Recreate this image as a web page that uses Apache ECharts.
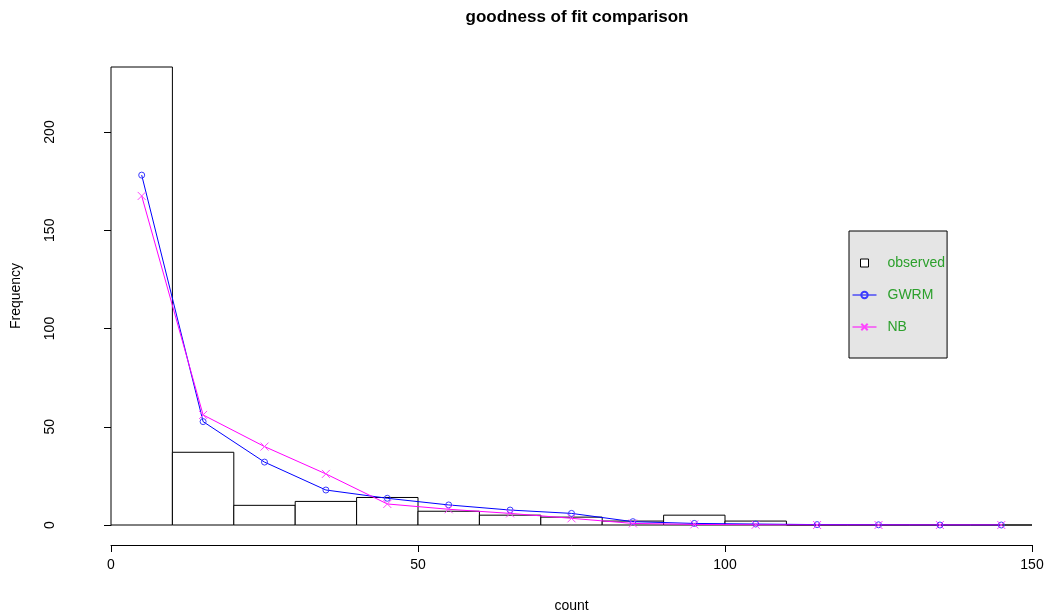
<!DOCTYPE html>
<html>
<head>
<meta charset="utf-8">
<script src="https://cdn.jsdelivr.net/npm/echarts@6/dist/echarts.min.js"></script>
<style>
  html, body { margin: 0; padding: 0; background: #fff; }
  #main { width: 1047px; height: 615px; }
</style>
</head>
<body>
<div id="main"></div>
<script>
// histogram bins (left edge, right edge) and observed counts
var binStart = [0, 10, 20, 30, 40, 50, 60, 70, 80, 90, 100, 110, 120, 130, 140];
var binEnd = [10, 20, 30, 40, 50, 60, 70, 80, 90, 100, 110, 120, 130, 140, 150];
var observed = [233, 37, 10, 12, 14, 7, 5, 4, 2, 5, 2, 0, 0, 0, 0];

// fitted frequencies at the bin midpoints
var midpoints = [5, 15, 25, 35, 45, 55, 65, 75, 85, 95, 105, 115, 125, 135, 145];
var gwrm = [178, 52.6, 32, 17.8, 13.6, 10.2, 7.6, 5.9, 1.7, 0.8, 0.5, 0.2, 0.1, 0, 0];
var nb = [167.4, 56, 39.9, 26, 10.7, 8, 5.9, 3.4, 0.8, 0.3, 0.1, 0, 0, 0, 0];

var yTicks = [0, 50, 100, 150, 200];
var xTicks = [0, 50, 100, 150];

var font = 'Liberation Sans, Arial, sans-serif';

var chartDom = document.getElementById('main');
var myChart = echarts.init(chartDom);

var histData = binStart.map(function (s, i) { return [s, binEnd[i], observed[i]]; });
var gwrmData = midpoints.map(function (x, i) { return [x, gwrm[i]]; });
var nbData = midpoints.map(function (x, i) { return [x, nb[i]]; });

var crossPath = 'path://M0,0L10,10M10,0L0,10';

var option = {
  animation: false,
  backgroundColor: '#ffffff',
  title: {
    text: 'goodness of fit comparison',
    left: 572,
    textAlign: 'center',
    top: 4,
    textStyle: { fontFamily: font, fontSize: 17, fontWeight: 'bold', color: '#000' }
  },
  legend: {
    orient: 'vertical',
    left: 849,
    top: 231,
    padding: [25, 2, 24, 3],
    itemGap: 18,
    itemWidth: 24,
    itemHeight: 8,
    backgroundColor: '#e5e5e5',
    borderColor: '#000',
    borderWidth: 1,
    borderRadius: 0,
    textStyle: { fontFamily: font, fontSize: 14, color: '#2ca02c', padding: [0, 0, 0, 6] },
    data: [
      { name: 'observed', icon: 'path://M0,0h10v10h-10z',
        itemStyle: { color: '#fff', borderColor: '#000', borderWidth: 1 } },
      { name: 'GWRM', lineStyle: { width: 1 } },
      { name: 'NB', lineStyle: { width: 1 } }
    ]
  },
  grid: [
    { left: 111, right: 15, top: 67, bottom: 90, outerBoundsMode: 'none', containLabel: false },
    { left: 111, right: 15, top: 132, bottom: 90, outerBoundsMode: 'none', containLabel: false }
  ],
  xAxis: [
    {
      type: 'value', gridIndex: 0, min: 0, max: 150, interval: 50,
      offset: 20,
      splitLine: { show: false },
      axisLine: { onZero: false, lineStyle: { color: '#000', width: 1 } },
      axisTick: { length: 7, lineStyle: { color: '#000' } },
      axisLabel: {
        margin: 13, fontFamily: font, fontSize: 14, color: '#000',
        customValues: xTicks
      },
      name: 'count', nameLocation: 'middle', nameGap: 54,
      nameTextStyle: { fontFamily: font, fontSize: 14, color: '#000' }
    },
    { type: 'value', gridIndex: 1, min: 0, max: 150, show: false }
  ],
  yAxis: [
    {
      type: 'value', gridIndex: 0, min: 0, max: 233,
      splitLine: { show: false },
      axisLine: { show: false },
      axisTick: { show: false },
      axisLabel: { show: false },
      name: 'Frequency', nameLocation: 'middle', nameGap: 88,
      nameTextStyle: { fontFamily: font, fontSize: 14, color: '#000' }
    },
    {
      type: 'value', gridIndex: 1, min: 0, max: 200, interval: 50,
      offset: 34,
      splitLine: { show: false },
      axisLine: { show: true, lineStyle: { color: '#000', width: 1 } },
      axisTick: { show: true, length: 7, lineStyle: { color: '#000' } },
      axisLabel: {
        rotate: 90, margin: 20, fontFamily: font, fontSize: 14, color: '#000',
        customValues: yTicks
      }
    }
  ],
  series: [
    {
      name: 'observed',
      type: 'custom',
      xAxisIndex: 0, yAxisIndex: 0,
      data: histData,
      encode: { x: [0, 1], y: 2 },
      renderItem: function (params, api) {
        var p0 = api.coord([api.value(0), api.value(2)]);
        var p1 = api.coord([api.value(1), 0]);
        return {
          type: 'rect',
          shape: { x: p0[0], y: p0[1], width: p1[0] - p0[0], height: p1[1] - p0[1] },
          style: { fill: '#fff', stroke: '#000', lineWidth: 1 }
        };
      },
      z: 1
    },
    {
      name: 'GWRM',
      type: 'line',
      xAxisIndex: 0, yAxisIndex: 0,
      data: gwrmData,
      symbol: 'circle',
      symbolSize: 6,
      lineStyle: { color: '#0000ff', width: 1 },
      itemStyle: { color: 'rgba(0,0,0,0)', borderColor: '#3b3bff', borderWidth: 1 },
      z: 3
    },
    {
      name: 'NB',
      type: 'line',
      xAxisIndex: 0, yAxisIndex: 0,
      data: nbData,
      symbol: crossPath,
      symbolSize: 8,
      lineStyle: { color: '#ff00ff', width: 1 },
      itemStyle: { color: 'none', borderColor: '#ff44ff', borderWidth: 1 },
      z: 4
    }
  ]
};

option && myChart.setOption(option);
</script>
</body>
</html>
